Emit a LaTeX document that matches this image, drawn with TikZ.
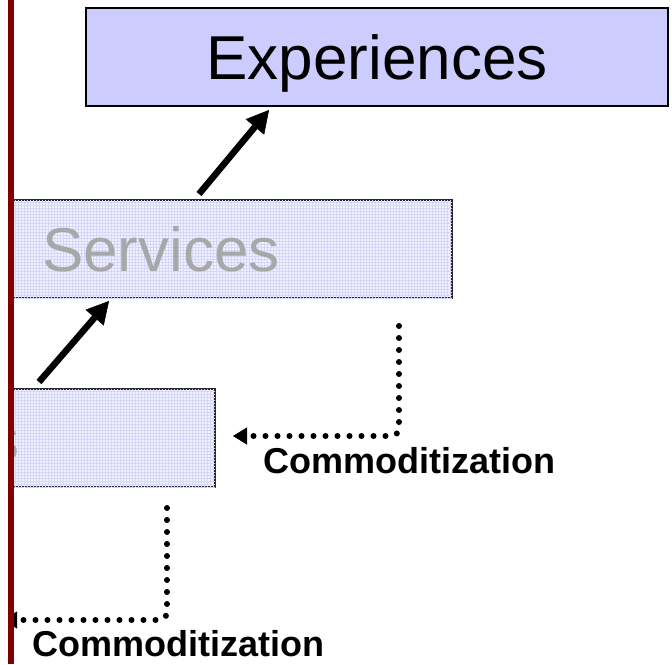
\documentclass[tikz,border=0pt]{standalone}
\usepackage{fontspec}
\setmainfont{Liberation Sans}
\usetikzlibrary{arrows.meta,patterns,calc}

\definecolor{expFill}{RGB}{204,204,255}
\definecolor{paleFill}{RGB}{242,242,255}
\definecolor{gridLav}{RGB}{214,214,250}
\definecolor{fadedText}{RGB}{168,168,168}
\definecolor{frameRed}{RGB}{128,0,0}

\begin{document}
\begin{tikzpicture}[x=1pt,y=-1pt,
  stage/.style={rectangle, minimum width=582pt, minimum height=98pt,
    inner sep=0pt, line width=2pt, text height=44pt, text depth=0pt,
    font=\fontsize{62}{62}\selectfont},
  expStage/.style={stage, draw=black, fill=expFill},
  pastStage/.style={stage, draw=black!85, fill=paleFill, text=fadedText,
    postaction={pattern=grid, pattern color=gridLav}},
  rise/.style={draw, line width=6.5pt,
    -{Triangle[length=22pt,width=24pt,line width=0.5pt]}},
  slide/.style={draw, line width=6pt, line cap=round,
    dash pattern=on 0pt off 12pt, rounded corners=8pt,
    -{Triangle[length=14pt,width=17pt,line width=0.5pt]}},
  tag/.style={anchor=base west, inner sep=0pt,
    font=\bfseries\fontsize{36}{36}\selectfont}
]
\fill[white] (0,0) rectangle (672,664);
\useasboundingbox (0,0) rectangle (672,664);

\begin{scope}
  \clip (8,0) rectangle (672,664);

  % the three stages of the progression
  \node[expStage]  (exp)   at (377,57)  {Experiences};
  \node[pastStage] (srv)   at (161,249) {Services};
  \node[pastStage] (goods) at (-76,438) {\hspace*{8pt}Goods};

  % upward steps
  \draw[rise] ($(srv.north west)+(330,-5)$) -- ($(exp.south west)+(184,3)$);
  \draw[rise] ($(goods.north west)+(407,-6)$) -- ($(srv.south west)+(240,2)$);

  % commoditization drift
  \coordinate (cmTip) at (3,620);
  \draw[slide] ($(srv.south east)+(-54,27)$) |- ($(goods.east)+(17,-2)$);
  \draw[slide] ($(goods.south east)+(-49,20)$) |- (cmTip);

  \node[tag] (lab1) at (263,473) {Commoditization};
  \node[tag] (lab2) at (32,656) {Commoditization};
\end{scope}

% slide edge
\fill[frameRed] (8,0) rectangle (14,664);
\end{tikzpicture}
\end{document}
